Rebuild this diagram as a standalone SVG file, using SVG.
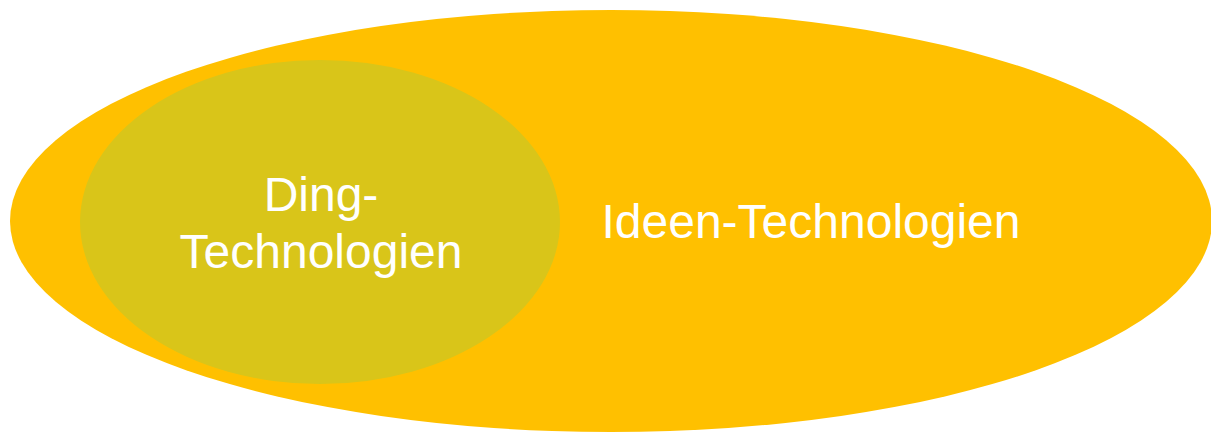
<svg xmlns="http://www.w3.org/2000/svg" width="1211" height="434" viewBox="0 0 1211 434">
<style>
.t{font-family:"Liberation Sans",Arial,sans-serif;font-size:48px;fill:#ffffff;text-anchor:middle}
</style>
<rect width="1211" height="434" fill="#ffffff"/>
<g id="ideen">
<ellipse cx="611" cy="221" rx="601" ry="211" fill="#FFC000"/>
<text class="t" x="811" y="238">Ideen-Technologien</text>
</g>
<g id="ding">
<ellipse cx="320" cy="222" rx="240" ry="162" fill="#D9C519"/>
<text class="t" x="321" y="211">Ding-</text>
<text class="t" x="321" y="268">Technologien</text>
</g>
<g id="connectors"/>
</svg>
